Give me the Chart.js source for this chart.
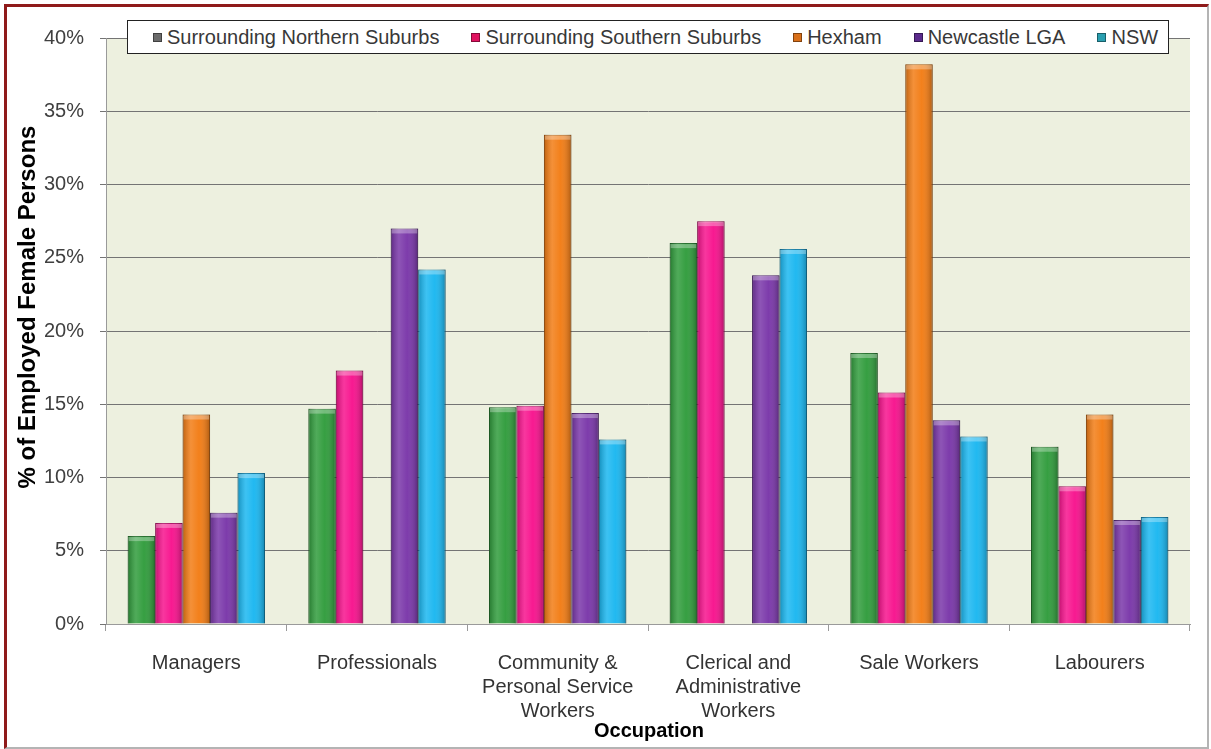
<!DOCTYPE html>
<html>
<head>
<meta charset="utf-8">
<script src="https://cdn.jsdelivr.net/npm/chart.js"></script>
<style>
  html, body { margin: 0; padding: 0; background: #fff; }
  #frame {
    position: absolute; left: 4px; top: 4px;
    width: 1205px; height: 745px; box-sizing: border-box;
    border-top: 3px solid #8f1a1a; border-left: 3px solid #8f1a1a;
    border-right: 2px solid #b4b4b4; border-bottom: 2px solid #b4b4b4;
    background: #fff;
  }
  #legend {
    position: absolute; left: 120px; top: 13px; width: 1042px; height: 34px;
    box-sizing: border-box; border: 1px solid #222; background: #fff;
    display: flex; align-items: center; padding-left: 25px;
    font-family: "Liberation Sans", Arial, sans-serif; font-size: 20px; color: #383838;
  }
  .item { display: flex; align-items: center; margin-right: 32px; white-space: nowrap; }
  .mark { width: 9px; height: 9px; margin-right: 5px; border: 1px solid rgba(0,0,0,0.4); box-sizing: border-box; }
</style>
</head>
<body>
<div id="frame">
  <canvas id="chart" width="1200" height="740"></canvas>
  <div id="legend"></div>
</div>
<script>
// categorias e séries
const categories = [
  ["Managers"],
  ["Professionals"],
  ["Community &", "Personal Service", "Workers"],
  ["Clerical and", "Administrative", "Workers"],
  ["Sale Workers"],
  ["Labourers"]
];
const seriesNames = ["Surrounding Northern Suburbs", "Surrounding Southern Suburbs", "Hexham", "Newcastle LGA", "NSW"];
const northern = [6.0, 14.7, 14.8, 26.0, 18.5, 12.1];
const southern = [6.9, 17.3, 14.9, 27.5, 15.8, 9.4];
const hexham = [14.3, 0, 33.4, 0, 38.2, 14.3];
const newcastle = [7.6, 27.0, 14.4, 23.8, 13.9, 7.1];
const nsw = [10.3, 24.2, 12.6, 25.6, 12.8, 7.3];
const yTicks = [0, 5, 10, 15, 20, 25, 30, 35, 40];

const barColors = ["#2e9b3a", "#f7108c", "#f27b12", "#7834a8", "#18b6f0"];
const edgeColors = ["#1f6b27", "#a80b60", "#a8540a", "#4d1f70", "#0f7aa3"];
const legendColors = ["#6b6b6b", "#e0125f", "#d9701a", "#5b2a8c", "#2a9fb0"];
const font = "'Liberation Sans', Arial, sans-serif";

const seriesData = [northern, southern, hexham, newcastle, nsw];

// fundo da área do gráfico
const plotBg = {
  id: "plotBg",
  beforeDraw(chart) {
    const { ctx, chartArea: a } = chart;
    ctx.save();
    ctx.fillStyle = "#edf0df";
    ctx.fillRect(a.left, a.top, a.right - a.left, a.bottom - a.top);
    ctx.restore();
  }
};

// brilho nas barras (efeito cilindro)
const barShade = {
  id: "barShade",
  afterDatasetsDraw(chart) {
    const ctx = chart.ctx;
    chart.data.datasets.forEach((ds, i) => {
      chart.getDatasetMeta(i).data.forEach(bar => {
        const p = bar.getProps(["x", "y", "base", "width"], true);
        const h = p.base - p.y;
        if (h < 1) return;
        const l = p.x - p.width / 2;
        const g = ctx.createLinearGradient(l, 0, l + p.width, 0);
        g.addColorStop(0, "rgba(0,0,0,0.22)");
        g.addColorStop(0.3, "rgba(255,255,255,0.16)");
        g.addColorStop(0.6, "rgba(255,255,255,0.04)");
        g.addColorStop(1, "rgba(0,0,0,0.28)");
        ctx.save();
        ctx.fillStyle = g;
        ctx.fillRect(l, p.y, p.width, h);
        ctx.fillStyle = "rgba(255,255,255,0.3)";
        ctx.fillRect(l + 1, p.y + 1, p.width - 2, 4);
        ctx.restore();
      });
    });
  }
};

// títulos dos eixos
const axisTitles = {
  id: "axisTitles",
  afterDraw(chart) {
    const ctx = chart.ctx;
    ctx.save();
    ctx.fillStyle = "#000";
    ctx.font = "bold 24px " + font;
    ctx.textAlign = "center";
    ctx.textBaseline = "middle";
    ctx.translate(21, 300);
    ctx.rotate(-Math.PI / 2);
    ctx.fillText("% of Employed Female Persons", 0, 0);
    ctx.restore();
    ctx.save();
    ctx.fillStyle = "#000";
    ctx.font = "bold 20px " + font;
    ctx.textAlign = "center";
    ctx.textBaseline = "middle";
    ctx.fillText("Occupation", 642, 724);
    ctx.restore();
  }
};

const chart = new Chart(document.getElementById("chart").getContext("2d"), {
  type: "bar",
  data: {
    labels: categories,
    datasets: seriesNames.map((name, i) => ({
      label: name,
      data: seriesData[i],
      backgroundColor: barColors[i],
      borderColor: edgeColors[i],
      borderWidth: 1,
      categoryPercentage: 0.76,
      barPercentage: 1.0
    }))
  },
  options: {
    responsive: false,
    animation: false,
    layout: { padding: { top: 31, right: 17, left: 0, bottom: 0 } },
    plugins: {
      legend: { display: false },
      tooltip: { enabled: false }
    },
    scales: {
      x: {
        offset: true,
        grid: { display: true, offset: true, drawOnChartArea: false, tickLength: 7, color: "#9a9a9a" },
        border: { color: "#9a9a9a" },
        ticks: {
          maxRotation: 0, autoSkip: false, padding: 20, color: "#333",
          font: { family: font, size: 20, lineHeight: 1.2 }
        },
        afterFit(scale) { scale.height = 123; }
      },
      y: {
        min: 0, max: 40,
        afterBuildTicks(scale) { scale.ticks = yTicks.map(v => ({ value: v })); },
        grid: { color: "#747474", tickLength: 6 },
        border: { color: "#9a9a9a" },
        ticks: {
          padding: 16, color: "#404040",
          font: { family: font, size: 20 },
          callback: v => v + "%"
        },
        afterFit(scale) { scale.width = 99; }
      }
    }
  },
  plugins: [plotBg, barShade, axisTitles]
});

// legenda em HTML
const legend = document.getElementById("legend");
seriesNames.forEach((name, i) => {
  const item = document.createElement("div");
  item.className = "item";
  item.innerHTML = `<span class="mark" style="background:${legendColors[i]}"></span>${name}`;
  legend.appendChild(item);
});
</script>
</body>
</html>
